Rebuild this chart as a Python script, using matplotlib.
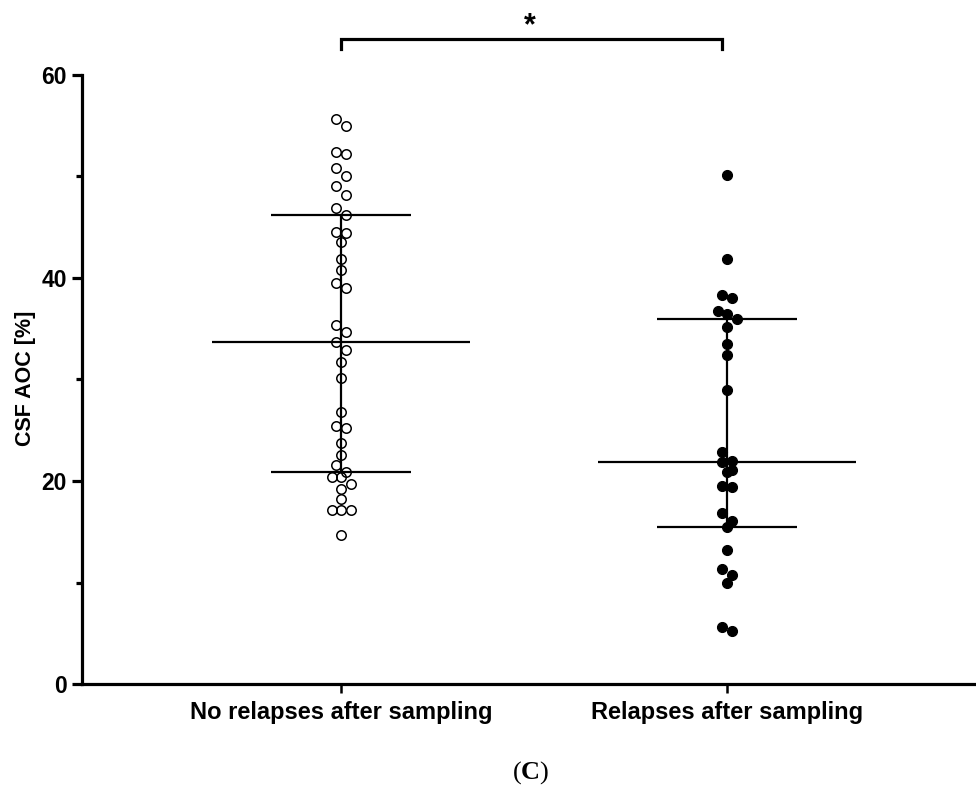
import numpy as np
import matplotlib
matplotlib.use("Agg")
import matplotlib.pyplot as plt

plt.rcParams["font.family"] = ["Liberation Sans", "DejaVu Sans"]
plt.rcParams["font.weight"] = "bold"
plt.rcParams["mathtext.fontset"] = "custom"
plt.rcParams["mathtext.rm"] = "Liberation Serif"
plt.rcParams["mathtext.bf"] = "Liberation Serif:bold"

# CSF AOC values (%) per patient group
categories = ["No relapses after sampling", "Relapses after sampling"]
no_relapse = [55.7, 55.0, 52.4, 52.2, 50.8, 50.0, 49.1, 48.2, 46.9, 46.2,
              44.5, 44.4, 43.5, 41.9, 40.8, 39.5, 39.0, 35.4, 34.7, 33.7,
              32.9, 31.7, 30.1, 26.8, 25.4, 25.2, 23.7, 22.6, 21.6, 20.9,
              20.4, 20.4, 19.7, 19.2, 18.2, 17.1, 17.1, 17.1, 14.7]
relapse = [50.1, 41.9, 38.3, 38.0, 36.7, 36.5, 36.0, 35.2, 33.5, 32.4,
           29.0, 22.9, 22.0, 21.9, 21.1, 20.9, 19.5, 19.4, 16.8, 16.1,
           15.5, 13.2, 11.3, 10.7, 10.0, 5.6, 5.2]
y_ticks = [0, 20, 40, 60]
y_minor = [10, 30, 50]
significance = "*"

W, H = 976, 789
fig = plt.figure(figsize=(W / 100, H / 100), dpi=100)
ax = fig.add_axes([82 / W, 105 / H, 894 / W, 609 / H])

xlim = (-0.671, 1.645)
ylim = (0, 60)
ax.set_xlim(*xlim)
ax.set_ylim(*ylim)

px_x = ax.bbox.width / (xlim[1] - xlim[0])   # pixels per x unit
px_y = ax.bbox.height / (ylim[1] - ylim[0])  # pixels per y unit
dot_px = 9.5                                 # marker footprint in pixels


def swarm_offsets(values):
    """Group nearby values into rows and spread each row symmetrically."""
    order = np.argsort(values)[::-1]
    vals = np.asarray(values)
    offsets = np.zeros(len(vals))
    row = []
    row_top = None
    rows = []
    for i in order:
        if row and (row_top - vals[i]) * px_y < dot_px:
            row.append(i)
        else:
            if row:
                rows.append(row)
            row = [i]
            row_top = vals[i]
    if row:
        rows.append(row)
    for r in rows:
        k = len(r)
        for j, i in enumerate(r):
            offsets[i] = (j - (k - 1) / 2) * dot_px / px_x
    return offsets


groups = [no_relapse, relapse]
styles = [dict(marker="o", ms=6.8, mfc="none", mec="black", mew=1.1),
          dict(marker="o", ms=7.2, mfc="black", mec="black", mew=0.8)]
med_half = 129 / px_x
q_half = 70 / px_x

for xi, (vals, st) in enumerate(zip(groups, styles)):
    q1, med, q3 = np.percentile(vals, [25, 50, 75], method="weibull")
    ax.plot([xi - med_half, xi + med_half], [med, med], color="black",
            lw=1.6, zorder=2, solid_capstyle="butt")
    ax.plot([xi - q_half, xi + q_half], [q1, q1], color="black",
            lw=1.6, zorder=2, solid_capstyle="butt")
    ax.plot([xi - q_half, xi + q_half], [q3, q3], color="black",
            lw=1.6, zorder=2, solid_capstyle="butt")
    ax.plot([xi, xi], [q1, q3], color="black", lw=1.6, zorder=2)
    off = swarm_offsets(vals)
    ax.plot(xi + off, vals, ls="none", zorder=3, **st)

# significance bracket
yb_top = (683 - 38.3) / px_y
yb_low = (683 - 47.7) / px_y
ax.plot([0, 0, 0.987, 0.987], [yb_low, yb_top, yb_top, yb_low], color="black",
        lw=2.3, clip_on=False, solid_joinstyle="miter")
ax.text(0.49, (683 - 25) / px_y, significance, ha="center", va="center",
        fontsize=22, fontweight="bold", clip_on=False)

# axes styling
for s in ["top", "right"]:
    ax.spines[s].set_visible(False)
for s in ["left", "bottom"]:
    ax.spines[s].set_linewidth(2.3)
    ax.spines[s].set_capstyle("projecting")

ax.set_yticks(y_ticks)
ax.set_yticks(y_minor, minor=True)
ax.set_yticklabels([str(t) for t in y_ticks], fontsize=16.5, fontweight="bold")
ax.tick_params(axis="y", which="major", length=7.5, width=2.3, pad=3.5)
ax.tick_params(axis="y", which="minor", length=4, width=2.3)
ax.set_xticks([0, 1])
ax.set_xticklabels(categories, fontsize=17, fontweight="bold")
ax.tick_params(axis="x", which="major", length=6.5, width=1.8, pad=6)
ax.tick_params(axis="x", which="minor", length=0)

fig.text(25 / W, 1 - 378 / H, "CSF AOC [%]", rotation=90, ha="center",
         va="center", fontsize=15.5, fontweight="bold")

fig.text(531 / W, 1 - 773 / H, r"($\mathbf{C}$)", ha="center", va="center",
         fontsize=19, family="Liberation Serif", fontweight="normal")

fig.savefig("out.png", dpi=100)
